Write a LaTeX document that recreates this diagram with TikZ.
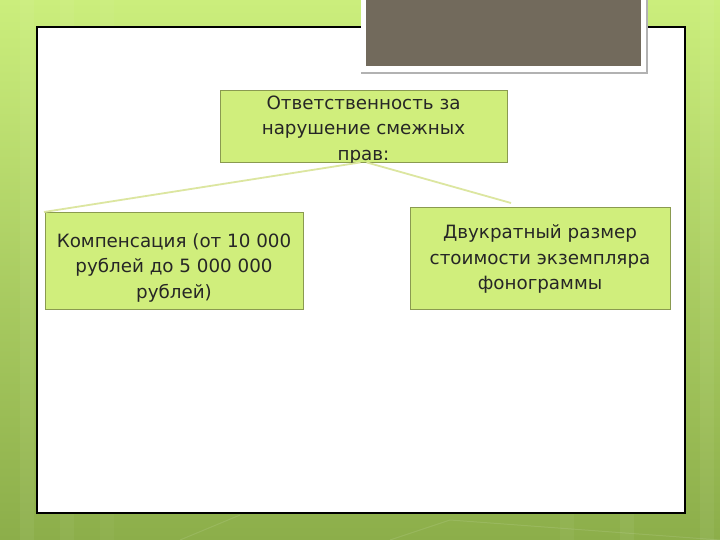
\documentclass[tikz,border=0pt]{standalone}
\usepackage{fontspec}
\setmainfont{DejaVu Sans}
\definecolor{bgtop}{HTML}{CBEE7C}
\definecolor{bgbot}{HTML}{8CAE4A}
\definecolor{boxfill}{HTML}{D0EE7C}
\definecolor{boxline}{HTML}{8A9A50}
\definecolor{brownbox}{HTML}{726A5C}
\definecolor{linkcol}{HTML}{DCE6A0}
\tikzset{
  x=1pt, y=-1pt,
  greenbox/.style={draw=boxline, line width=0.8pt, fill=boxfill, inner sep=0pt},
  boxtext/.style={align=center, font=\fontsize{18.3}{25.5}\selectfont, text=black!85, inner sep=0pt},
  link/.style={draw=linkcol, line width=1.8pt}
}
\begin{document}
\begin{tikzpicture}
\useasboundingbox (0,0) rectangle (720,540);
\shade[top color=bgtop, bottom color=bgbot] (0,0) rectangle (720,540);
\foreach \xx/\op in {20/0.05, 60/0.04, 100/0.03, 560/0.04, 620/0.05, 700/0.05}
  \fill[white, opacity=\op] (\xx,0) rectangle (\xx+14,540);
\draw[white, opacity=0.1, line width=1pt] (180,540) -- (240,515) (390,540) -- (450,520) (450,520) -- (720,540);
% white panel
\draw[black, line width=1.2pt, fill=white] (37,27) rectangle (685,513);
% brown photo frame
\fill[gray!60] (361,0) rectangle (648,74);
\fill[white] (361,0) rectangle (646,72);
\fill[brownbox] (366,0) rectangle (641,66);
% boxes
\node[greenbox, minimum width=287pt, minimum height=72pt] (top) at (363.5,126) {};
\node[boxtext] (toptext) at (363.5,130) {Ответственность за\\нарушение смежных\\прав:};
\node[greenbox, minimum width=258pt, minimum height=97pt] (left) at (174,260.5) {};
\node[boxtext] (lefttext) at (174,267.5) {Компенсация (от 10 000\\рублей до 5 000 000\\рублей)};
\node[greenbox, minimum width=260pt, minimum height=102pt] (right) at (540,258) {};
\node[boxtext] (righttext) at (540,259) {Двукратный размер\\стоимости экземпляра\\фонограммы};
% connectors
\coordinate (lend) at (44,212);
\coordinate (rend) at (511,203);
\draw[link] ([xshift=-3pt]top.south) -- (lend);
\draw[link] ([xshift=3pt]top.south) -- (rend);
\end{tikzpicture}
\end{document}
